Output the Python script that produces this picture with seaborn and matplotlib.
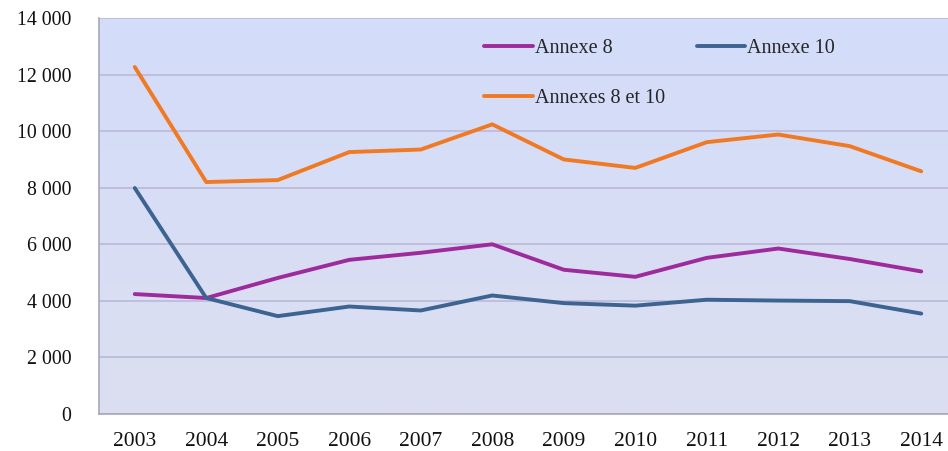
import numpy as np
import pandas as pd
import matplotlib
matplotlib.use("Agg")
import matplotlib.pyplot as plt
from matplotlib.colors import LinearSegmentedColormap
import seaborn as sns

years = list(range(2003, 2015))
annexe_8 = [4240, 4100, 4810, 5450, 5700, 6000, 5100, 4850, 5520, 5850, 5480, 5040]
annexe_10 = [7990, 4100, 3460, 3800, 3660, 4190, 3920, 3830, 4040, 4010, 3990, 3550]
annexes_8_10 = [12270, 8200, 8270, 9260, 9350, 10240, 9000, 8700, 9610, 9880, 9470, 8580]
series_names = ["Annexe 8", "Annexe 10", "Annexes 8 et 10"]
y_ticks = [0, 2000, 4000, 6000, 8000, 10000, 12000, 14000]

df = pd.DataFrame({
    "year": years * 3,
    "value": annexe_8 + annexe_10 + annexes_8_10,
    "series": [series_names[0]] * 12 + [series_names[1]] * 12 + [series_names[2]] * 12,
})

sns.set_style("white")
plt.rcParams["font.family"] = ["Liberation Serif", "DejaVu Serif"]

fig = plt.figure(figsize=(9.48, 4.51), dpi=100)
ax = fig.add_axes([99 / 948, 37 / 451, 858 / 948, 396 / 451])

# gradient background of the plot area
bg = LinearSegmentedColormap.from_list("bg", ["#d3dcfa", "#dcdff0"])
ax.imshow(np.linspace(0, 1, 256)[:, None], extent=(2002.5, 2014.5, 0, 14000),
          aspect="auto", cmap=bg, zorder=0)

palette = {"Annexe 8": "#9e2a9b", "Annexe 10": "#3d6391", "Annexes 8 et 10": "#f07a24"}
sns.lineplot(data=df, x="year", y="value", hue="series", palette=palette,
             linewidth=2.8, ax=ax, zorder=3)

ax.set_xlim(2002.5, 2014.5)
ax.set_ylim(0, 14000)
ax.set_xticks(years)
ax.set_xticklabels([str(y) for y in years])
ax.set_yticks(y_ticks)
ax.set_yticklabels([f"{v:,}".replace(",", " ") for v in y_ticks])
ax.tick_params(axis="both", length=0, colors="#111111")
ax.tick_params(axis="y", pad=20, labelsize=14.3)
ax.tick_params(axis="x", pad=13, labelsize=15.5)
ax.set_xlabel("")
ax.set_ylabel("")

ax.yaxis.grid(True, color="#bab8d8", linewidth=1.2)
for line in ax.get_ygridlines():
    line.set_zorder(1)
ax.spines["top"].set_visible(False)
ax.spines["right"].set_visible(False)
ax.spines["left"].set_color("#a8a8b8")
ax.spines["bottom"].set_color("#a8a8b8")
ax.spines["left"].set_linewidth(1.2)
ax.spines["bottom"].set_linewidth(1.2)

# row-major order for the two-column legend
handles, labels = ax.get_legend_handles_labels()
order = [0, 2, 1]
ax.legend([handles[i] for i in order], [labels[i] for i in order], ncol=2,
          frameon=False, fontsize=14.5, loc="upper left",
          bbox_to_anchor=(0.428, 0.993),
          handlelength=2.4, handletextpad=0.1, columnspacing=1.6,
          labelspacing=1.55)

fig.savefig("out.png", dpi=100)
